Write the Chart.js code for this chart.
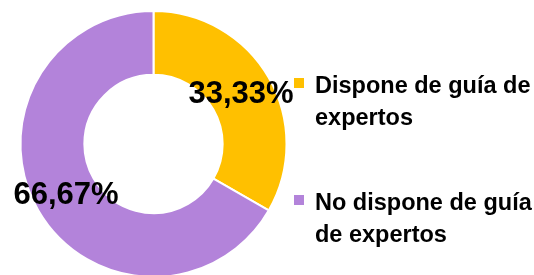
<!DOCTYPE html>
<html>
<head>
<meta charset="utf-8">
<script src="https://cdn.jsdelivr.net/npm/chart.js"></script>
<style>
    html, body { margin: 0; padding: 0; background: #fff; overflow: hidden; }
    #wrap { position: relative; width: 534px; height: 275px; overflow: hidden; }
    #chartBox { position: absolute; left: 0; top: 0; width: 307px; height: 288px; }
    .legend-item { position: absolute; left: 294px; width: 240px; font: bold 23.5px "Liberation Sans", Arial, sans-serif; line-height: 32px; color: #000; }
    .legend-item .box { position: absolute; left: 0; top: 9px; width: 10px; height: 10px; }
    .legend-item .txt { position: absolute; left: 21px; width: 228px; }
</style>
</head>
<body>
<div id="wrap">
    <div id="chartBox"><canvas id="chart"></canvas></div>
</div>
<script>
const labels = ['Dispone de guía de expertos', 'No dispone de guía de expertos'];
const values = [33.33, 66.67];
const colors = ['#FFC000', '#B383DA'];
const legendTops = [69, 186];

// percentage labels in the middle of each ring segment
const pctLabels = {
    id: 'pctLabels',
    afterDatasetsDraw(chart) {
        const ctx = chart.ctx;
        const meta = chart.getDatasetMeta(0);
        const total = values.reduce((a, b) => a + b, 0);
        ctx.save();
        ctx.font = 'bold 31px "Liberation Sans", Arial, sans-serif';
        ctx.fillStyle = '#000';
        ctx.textAlign = 'center';
        ctx.textBaseline = 'middle';
        meta.data.forEach((arc, i) => {
            const p = arc.tooltipPosition();
            const txt = (values[i] / total * 100).toFixed(2).replace('.', ',') + '%';
            ctx.fillText(txt, p.x, p.y + 1);
        });
        ctx.restore();
    }
};

new Chart(document.getElementById('chart'), {
    type: 'doughnut',
    data: {
        labels: labels,
        datasets: [{
            data: values,
            backgroundColor: colors,
            borderColor: '#fff',
            borderWidth: 2
        }]
    },
    options: {
        responsive: true,
        maintainAspectRatio: false,
        animation: false,
        cutout: '52%',
        layout: { padding: 10 },
        plugins: { legend: { display: false }, tooltip: { enabled: false } }
    },
    plugins: [pctLabels]
});

// legend on the right
const wrap = document.getElementById('wrap');
labels.forEach((name, i) => {
    const item = document.createElement('div');
    item.className = 'legend-item';
    item.style.top = legendTops[i] + 'px';
    item.innerHTML = '<div class="box" style="background:' + colors[i] + '"></div><div class="txt">' + name + '</div>';
    wrap.appendChild(item);
});
</script>
</body>
</html>
